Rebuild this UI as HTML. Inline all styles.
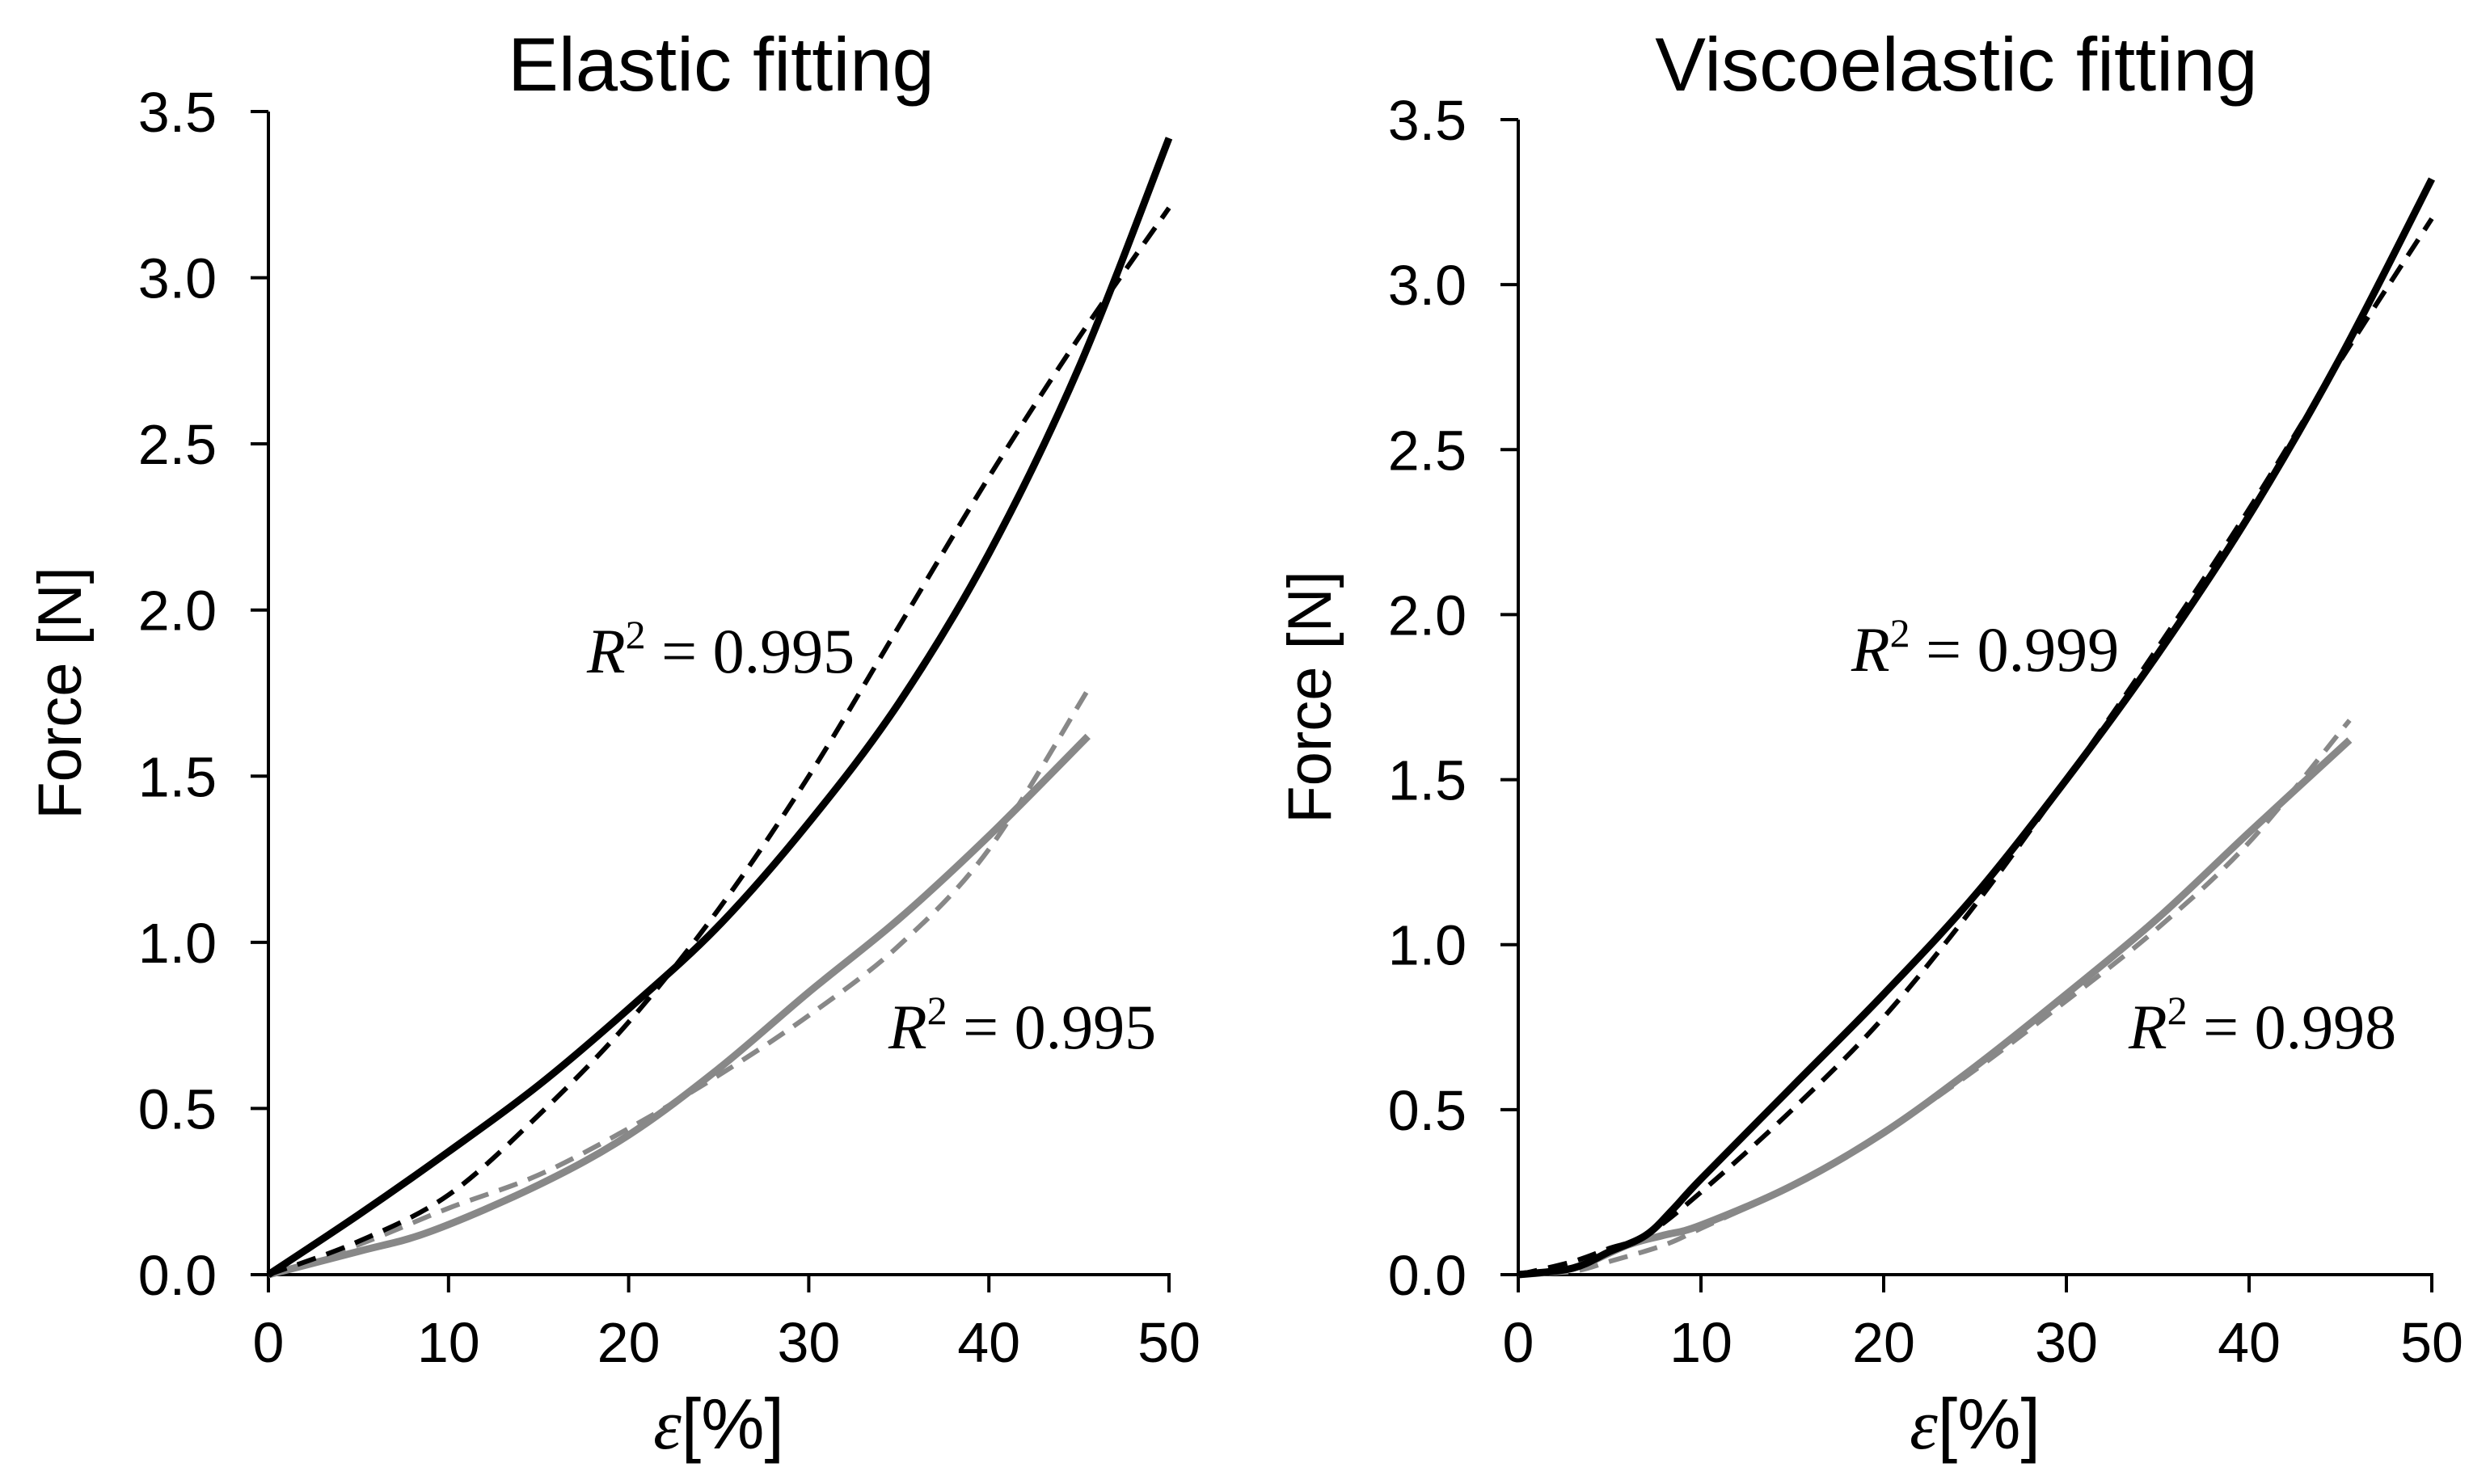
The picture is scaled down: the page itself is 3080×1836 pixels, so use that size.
<!DOCTYPE html>
<html><head><meta charset="utf-8"><style>
html,body{margin:0;padding:0;background:#fff;}
svg{display:block;}
text{font-family:"Liberation Sans",Arial,sans-serif;fill:#000;}
.r2{font-family:"Liberation Serif","DejaVu Serif",serif;}
</style></head><body>
<svg id="chart" width="3080" height="1836" viewBox="0 0 3080 1836" xmlns="http://www.w3.org/2000/svg"></svg>
<script>
const xTicks = [0,10,20,30,40,50];
const yTicks = [0,0.5,1,1.5,2,2.5,3,3.5];
const yTickLabels = ["0.0","0.5","1.0","1.5","2.0","2.5","3.0","3.5"];
// Elastic panel
const elX_blackSolid = [0,5,10,15,20,25,30,35,40,45,50];
const elY_blackSolid = [0,0.18,0.37,0.57,0.80,1.05,1.36,1.72,2.17,2.73,3.42];
const elX_blackDash = [0,5,10,15,20,25,30,35,40,45,50];
const elY_blackDash = [0,0.1,0.24,0.48,0.76,1.1,1.5,1.95,2.4,2.82,3.21];
const elX_graySolid = [0,5,9,15,20,25,30,35,40,45.5];
const elY_graySolid = [0,0.07,0.13,0.27,0.42,0.62,0.85,1.07,1.32,1.62];
const elX_grayDash = [0,5,10,15,20,25,30,35,40,45.5];
const elY_grayDash = [0,0.09,0.2,0.3,0.44,0.6,0.78,0.99,1.28,1.76];
// Viscoelastic panel
const veX_blackSolid = [0,3,5,7,8.5,10,15,20,25,30,35,40,45,50];
const veY_blackSolid = [0,0.02,0.07,0.12,0.2,0.29,0.57,0.85,1.15,1.5,1.88,2.3,2.78,3.32];
const veX_blackDash = [0,3,5,7,10,15,20,25,30,35,40,45,50];
const veY_blackDash = [0,0.04,0.08,0.12,0.25,0.5,0.78,1.12,1.5,1.9,2.32,2.77,3.2];
const veX_graySolid = [0,3,6,8,10,15,20,25,30,35,40,45.5];
const veY_graySolid = [0,0.02,0.09,0.12,0.15,0.27,0.43,0.63,0.85,1.08,1.34,1.62];
const veX_grayDash = [0,3,5,8,10,15,20,25,30,35,40,45.5];
const veY_grayDash = [0,0.01,0.04,0.09,0.14,0.27,0.43,0.62,0.83,1.05,1.31,1.68];

const NS="http://www.w3.org/2000/svg";
const svg=document.getElementById('chart');
function mk(tag,attrs,parent){const e=document.createElementNS(NS,tag);for(const k in attrs)e.setAttribute(k,attrs[k]);(parent||svg).appendChild(e);return e;}

function smoothPath(pts){
  let d="M"+pts[0][0]+","+pts[0][1];
  for(let i=0;i<pts.length-1;i++){
    const p0=pts[Math.max(i-1,0)],p1=pts[i],p2=pts[i+1],p3=pts[Math.min(i+2,pts.length-1)];
    const c1x=p1[0]+(p2[0]-p0[0])/6,c1y=p1[1]+(p2[1]-p0[1])/6;
    const c2x=p2[0]-(p3[0]-p1[0])/6,c2y=p2[1]-(p3[1]-p1[1])/6;
    d+=" C"+c1x+","+c1y+" "+c2x+","+c2y+" "+p2[0]+","+p2[1];
  }
  return d;
}

function panel(cfg){
  const g=mk('g',{});
  
  
  const sx=v=>cfg.x0+(cfg.x1-cfg.x0)*v/50;
  const sy=v=>cfg.y0-(cfg.y0-cfg.y1)*v/3.5;
  const t=mk('text',{x:cfg.tx,y:cfg.ty,'font-size':94,'text-anchor':'middle'},g);
  t.textContent=cfg.title;
  
  
  const ya=mk('line',{x1:cfg.x0,y1:cfg.y0+2,x2:cfg.x0,y2:cfg.y1,stroke:'#000','stroke-width':4},g);
  
  
  const xa=mk('line',{x1:cfg.x0-22,y1:cfg.y0,x2:cfg.x1+2,y2:cfg.y0,stroke:'#000','stroke-width':4},g);
  
  
  yTicks.forEach((v,i)=>{
    const y=sy(v);
    const l=mk('line',{x1:cfg.x0-22,y1:y,x2:cfg.x0,y2:y,stroke:'#000','stroke-width':4},g);
    
    
    const tx=mk('text',{x:cfg.x0-64,y:y+25,'font-size':70,'text-anchor':'end'},g);
    tx.textContent=yTickLabels[i];
    
    
  });
  xTicks.forEach(v=>{
    const x=sx(v);
    const l=mk('line',{x1:x,y1:cfg.y0,x2:x,y2:cfg.y0+22,stroke:'#000','stroke-width':4},g);
    
    
    const tx=mk('text',{x:x,y:cfg.y0+108,'font-size':70,'text-anchor':'middle'},g);
    tx.textContent=String(v);
    
    
  });
  const xt=mk('text',{x:sx(25),y:1792,'font-size':88,'text-anchor':'middle'},g);
  xt.innerHTML='<tspan font-family="Liberation Serif,serif" font-style="italic">ε</tspan>[%]';
  
  
  const yt=mk('text',{x:0,y:0,'font-size':76,'text-anchor':'middle',transform:'translate('+(cfg.x0-232)+','+((cfg.y0+cfg.y1)/2)+') rotate(-90)'},g);
  yt.textContent='Force [N]';
  
  
  cfg.series.forEach(s=>{
    const pts=s.xs.map((x,i)=>[sx(x),sy(s.ys[i])]);
    const p=mk('path',{d:smoothPath(pts),fill:'none',stroke:s.color,'stroke-width':s.dash?6:9,'stroke-dasharray':s.dash?'24 14':'none','stroke-linecap':'butt'},g);
    
    
  });
  cfg.labels.forEach(lb=>{
    const tx=mk('text',{x:lb.x,y:lb.y,'font-size':78,'class':'r2'},g);
    tx.innerHTML='<tspan font-style="italic">R</tspan><tspan font-size="50" dy="-30">2</tspan><tspan dy="30"> = '+lb.v+'</tspan>';
    
    
  });
}

panel({name:'elastic-panel',title:'Elastic fitting',tx:892,ty:112,x0:332,x1:1446,y0:1577,y1:138,
  series:[
    {name:'elastic-gray-dashed-fit',xs:elX_grayDash,ys:elY_grayDash,color:'#888',dash:true},
    {name:'elastic-gray-solid',xs:elX_graySolid,ys:elY_graySolid,color:'#888',dash:false},
    {name:'elastic-black-solid',xs:elX_blackSolid,ys:elY_blackSolid,color:'#000',dash:false},
    {name:'elastic-black-dashed-fit',xs:elX_blackDash,ys:elY_blackDash,color:'#000',dash:true}],
  labels:[{x:726,y:832,v:'0.995'},{x:1099,y:1297,v:'0.995'}]});
panel({name:'viscoelastic-panel',title:'Viscoelastic fitting',tx:2420,ty:112,x0:1878,x1:3008,y0:1577,y1:148,
  series:[
    {name:'visco-gray-dashed-fit',xs:veX_grayDash,ys:veY_grayDash,color:'#888',dash:true},
    {name:'visco-gray-solid',xs:veX_graySolid,ys:veY_graySolid,color:'#888',dash:false},
    {name:'visco-black-solid',xs:veX_blackSolid,ys:veY_blackSolid,color:'#000',dash:false},
    {name:'visco-black-dashed-fit',xs:veX_blackDash,ys:veY_blackDash,color:'#000',dash:true}],
  labels:[{x:2290,y:830,v:'0.999'},{x:2633,y:1297,v:'0.998'}]});
</script>
</body></html>
